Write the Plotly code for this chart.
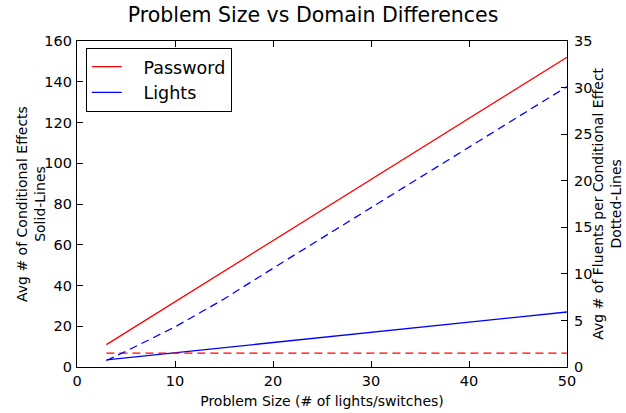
import plotly.graph_objects as go

# Problem sizes (number of lights / switches)
sizes = [3, 5, 10, 15, 20, 30, 40, 50]

# Avg # of conditional effects (left axis, solid lines)
password_effects = [11, 17, 32, 47, 62, 92, 122, 152]
lights_effects = [3.5, 4.5, 7, 9.5, 12, 17, 22, 27]

# Avg # of fluents per conditional effect (right axis, dashed lines)
password_fluents = [1.5, 1.5, 1.5, 1.5, 1.5, 1.5, 1.5, 1.5]
lights_fluents = [0.7, 1.7, 4.3, 7.3, 10.6, 17.1, 23.6, 30.1]

left_ticks = list(range(0, 161, 20))
right_ticks = list(range(0, 36, 5))
x_ticks = list(range(0, 51, 10))

FONT = "DejaVu Sans, Liberation Sans, sans-serif"
RED = "#ff0000"
BLUE = "#0000ff"
DASH = "8px,5px"

fig = go.Figure()
fig.add_trace(go.Scatter(x=sizes, y=password_effects, mode="lines", name="   Password",
                         line=dict(color=RED, width=1.3)))
fig.add_trace(go.Scatter(x=sizes, y=lights_effects, mode="lines", name="   Lights",
                         line=dict(color=BLUE, width=1.3)))
fig.add_trace(go.Scatter(x=sizes, y=password_fluents, mode="lines", yaxis="y2",
                         showlegend=False, line=dict(color=RED, width=1.3, dash=DASH)))
fig.add_trace(go.Scatter(x=sizes, y=lights_fluents, mode="lines", yaxis="y2",
                         showlegend=False, line=dict(color=BLUE, width=1.3, dash=DASH)))

axis_common = dict(showline=True, linecolor="black", linewidth=1.3, ticks="inside",
                   ticklen=6, tickcolor="black", showgrid=False, zeroline=False,
                   automargin=False,
                   tickfont=dict(family=FONT, size=14.5, color="black"))

title_font = dict(family=FONT, size=14, color="black")

fig.update_layout(
    width=626, height=413,
    margin=dict(l=77, r=59, t=41, b=46),
    paper_bgcolor="white", plot_bgcolor="white",
    font=dict(family=FONT, color="black"),
    title=dict(text="Problem Size vs Domain Differences", x=0.5, xanchor="center",
               y=0.963, yanchor="middle", font=dict(family=FONT, size=20.5, color="black")),
    xaxis=dict(range=[0, 50], tickvals=x_ticks, mirror="ticks",
               title=dict(text="Problem Size (# of lights/switches)", standoff=8,
                          font=title_font), **axis_common),
    yaxis=dict(range=[0, 160], tickvals=left_ticks, ticklabelstandoff=1, **axis_common),
    yaxis2=dict(range=[0, 35], tickvals=right_ticks, overlaying="y", side="right",
                ticklabelstandoff=3, **axis_common),
    legend=dict(x=0.018, y=0.979, xanchor="left", yanchor="top",
                bordercolor="black", borderwidth=1, bgcolor="white",
                font=dict(family=FONT, size=17.5, color="black")),
    annotations=[
        dict(text="Avg # of Conditional Effects<br>Solid-Lines", textangle=-90,
             xref="paper", yref="paper", x=-0.094, y=0.5, xanchor="center",
             yanchor="middle", showarrow=False, font=title_font, borderpad=0),
        dict(text="Avg # of Fluents per Conditional Effect<br>Dotted-Lines", textangle=-90,
             xref="paper", yref="paper", x=1.081, y=0.5, xanchor="center",
             yanchor="middle", showarrow=False, font=title_font, borderpad=0),
    ],
)

fig.write_html("out.html")
